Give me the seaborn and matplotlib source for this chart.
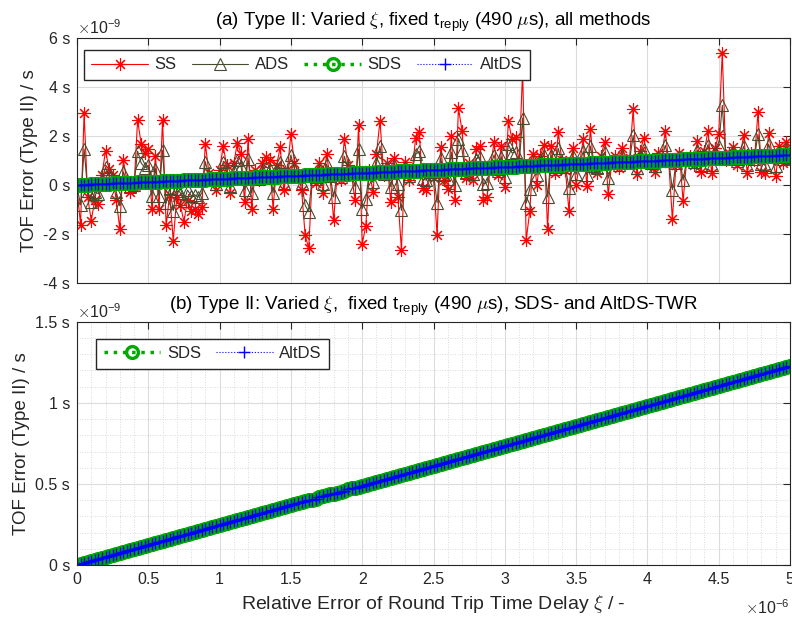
import matplotlib
matplotlib.use("Agg")
import matplotlib.pyplot as plt
import seaborn as sns
from matplotlib.ticker import MultipleLocator

# x: relative error of round trip time delay (x 1e-6)
xi = [
    0.000, 0.025, 0.050, 0.075, 0.100, 0.125, 0.150, 0.175, 0.200, 0.225,
    0.250, 0.275, 0.300, 0.325, 0.350, 0.375, 0.400, 0.425, 0.450, 0.475,
    0.500, 0.525, 0.550, 0.575, 0.600, 0.625, 0.650, 0.675, 0.700, 0.725,
    0.750, 0.775, 0.800, 0.825, 0.850, 0.875, 0.900, 0.925, 0.950, 0.975,
    1.000, 1.025, 1.050, 1.075, 1.100, 1.125, 1.150, 1.175, 1.200, 1.225,
    1.250, 1.275, 1.300, 1.325, 1.350, 1.375, 1.400, 1.425, 1.450, 1.475,
    1.500, 1.525, 1.550, 1.575, 1.600, 1.625, 1.650, 1.675, 1.700, 1.725,
    1.750, 1.775, 1.800, 1.825, 1.850, 1.875, 1.900, 1.925, 1.950, 1.975,
    2.000, 2.025, 2.050, 2.075, 2.100, 2.125, 2.150, 2.175, 2.200, 2.225,
    2.250, 2.275, 2.300, 2.325, 2.350, 2.375, 2.400, 2.425, 2.450, 2.475,
    2.500, 2.525, 2.550, 2.575, 2.600, 2.625, 2.650, 2.675, 2.700, 2.725,
    2.750, 2.775, 2.800, 2.825, 2.850, 2.875, 2.900, 2.925, 2.950, 2.975,
    3.000, 3.025, 3.050, 3.075, 3.100, 3.125, 3.150, 3.175, 3.200, 3.225,
    3.250, 3.275, 3.300, 3.325, 3.350, 3.375, 3.400, 3.425, 3.450, 3.475,
    3.500, 3.525, 3.550, 3.575, 3.600, 3.625, 3.650, 3.675, 3.700, 3.725,
    3.750, 3.775, 3.800, 3.825, 3.850, 3.875, 3.900, 3.925, 3.950, 3.975,
    4.000, 4.025, 4.050, 4.075, 4.100, 4.125, 4.150, 4.175, 4.200, 4.225,
    4.250, 4.275, 4.300, 4.325, 4.350, 4.375, 4.400, 4.425, 4.450, 4.475,
    4.500, 4.525, 4.550, 4.575, 4.600, 4.625, 4.650, 4.675, 4.700, 4.725,
    4.750, 4.775, 4.800, 4.825, 4.850, 4.875, 4.900, 4.925, 4.950, 4.975,
    5.000,
]

# TOF errors (x 1e-9 s)
ss_err = [
    -0.10, -1.62, 2.93, -0.50, -1.45, -0.60, -0.76, 0.40, 1.40, 0.66,
    0.40, -0.60, -1.78, 1.00, 0.20, -0.28, -0.10, 2.65, 1.68, 1.30,
    1.48, -0.98, 1.20, -1.00, 2.67, -1.65, -0.40, -2.27, -0.50, -0.82,
    -1.50, -0.60, -1.05, -1.00, -1.17, -0.90, 1.68, 0.50, 0.30, -0.20,
    0.60, 1.58, 0.80, -0.34, 0.90, 1.73, 1.27, -0.68, 1.86, -0.96,
    0.60, 0.20, 0.90, 1.15, 1.00, -0.96, 0.80, 1.55, -0.20, 0.60,
    2.07, 0.90, 0.50, -0.20, -2.06, -2.57, 0.40, 0.10, 0.90, -0.34,
    1.27, 0.30, -1.43, 0.50, 0.20, 1.88, 0.80, 0.40, -0.62, 2.46,
    -2.40, -1.68, 0.60, -0.28, 1.27, 2.63, 0.40, 0.90, -0.68, 1.10,
    -0.48, -2.64, 0.93, 0.20, 0.60, 1.92, 2.15, -0.13, -0.20, 0.50,
    0.30, -2.05, 1.56, 0.20, -0.18, 2.01, -0.62, 3.13, 2.22, 0.30,
    0.90, 0.20, 1.48, 1.58, -0.62, -0.50, 0.80, 1.75, 0.40, 1.60,
    -0.10, 2.60, 1.88, 1.95, 0.90, 4.70, -2.25, -1.07, 1.27, 0.00,
    1.20, 1.65, -1.78, 1.60, 0.50, 2.15, 1.00, 0.60, -1.08, 1.50,
    0.00, 0.90, 1.86, -0.05, 2.29, 0.70, 0.47, 1.20, 1.75, -0.37,
    0.90, 1.20, 0.70, 1.50, 0.90, 1.10, 3.09, 0.45, 1.40, 1.92,
    1.00, 0.80, 0.53, 1.30, 1.10, 2.22, 0.90, -1.40, 0.80, 1.30,
    -0.67, 1.00, 1.20, 0.80, 1.78, 0.53, 1.40, 2.22, 0.50, 1.50,
    2.09, 5.40, 1.00, 1.30, 1.55, 0.80, 1.20, 2.02, 0.47, 1.30,
    1.00, 2.97, 0.55, 0.47, 2.13, 1.20, 0.38, 1.60, 0.90, 1.76,
    1.00,
]

ads_err = [
    -0.05, -0.81, 1.47, -0.24, -0.71, -0.28, -0.36, 0.22, 0.72, 0.36,
    0.23, -0.27, -0.85, 0.54, 0.14, -0.09, 0.00, 1.38, 0.90, 0.71,
    0.80, -0.43, 0.67, -0.43, 1.41, -0.75, -0.12, -1.05, -0.16, -0.32,
    -0.66, -0.21, -0.43, -0.40, -0.48, -0.34, 0.95, 0.36, 0.27, 0.02,
    0.42, 0.92, 0.53, -0.04, 0.58, 1.00, 0.78, -0.20, 1.08, -0.33,
    0.45, 0.26, 0.61, 0.74, 0.67, -0.31, 0.57, 0.95, 0.08, 0.48,
    1.22, 0.64, 0.44, 0.09, -0.83, -1.09, 0.40, 0.26, 0.66, 0.04,
    0.85, 0.37, -0.49, 0.47, 0.33, 1.17, 0.63, 0.44, -0.07, 1.47,
    -0.96, -0.59, 0.55, 0.11, 0.89, 1.58, 0.46, 0.72, -0.07, 0.82,
    0.04, -1.04, 0.75, 0.38, 0.59, 1.25, 1.37, 0.23, 0.20, 0.55,
    0.46, -0.72, 1.09, 0.42, 0.23, 1.33, 0.01, 1.89, 1.44, 0.48,
    0.79, 0.44, 1.08, 1.14, 0.04, 0.10, 0.76, 1.23, 0.56, 1.16,
    0.32, 1.67, 1.31, 1.35, 0.83, 2.73, -0.74, -0.15, 1.03, 0.40,
    1.00, 1.23, -0.49, 1.21, 0.66, 1.49, 0.92, 0.72, -0.12, 1.18,
    0.43, 0.88, 1.37, 0.41, 1.59, 0.79, 0.68, 1.05, 1.33, 0.27,
    0.91, 1.06, 0.82, 1.22, 0.92, 1.02, 2.02, 0.71, 1.18, 1.45,
    0.99, 0.89, 0.76, 1.15, 1.05, 1.62, 0.96, -0.19, 0.91, 1.17,
    0.19, 1.02, 1.13, 0.93, 1.42, 0.80, 1.24, 1.65, 0.80, 1.30,
    1.60, 3.25, 1.06, 1.21, 1.34, 0.97, 1.17, 1.58, 0.81, 1.23,
    1.08, 2.07, 0.86, 0.83, 1.66, 1.20, 0.79, 1.40, 1.06, 1.49,
    1.11,
]

sds_err = [
    0.000, 0.006, 0.012, 0.018, 0.025, 0.031, 0.037, 0.043, 0.049, 0.055,
    0.061, 0.067, 0.074, 0.080, 0.086, 0.092, 0.098, 0.104, 0.110, 0.116,
    0.123, 0.129, 0.135, 0.141, 0.147, 0.153, 0.159, 0.165, 0.172, 0.178,
    0.184, 0.190, 0.196, 0.202, 0.208, 0.214, 0.221, 0.227, 0.233, 0.239,
    0.245, 0.251, 0.257, 0.263, 0.270, 0.276, 0.282, 0.288, 0.294, 0.300,
    0.306, 0.312, 0.319, 0.325, 0.331, 0.337, 0.343, 0.349, 0.355, 0.361,
    0.368, 0.374, 0.380, 0.386, 0.392, 0.398, 0.404, 0.410, 0.417, 0.423,
    0.429, 0.435, 0.441, 0.447, 0.453, 0.459, 0.466, 0.472, 0.478, 0.484,
    0.490, 0.496, 0.502, 0.508, 0.515, 0.521, 0.527, 0.533, 0.539, 0.545,
    0.551, 0.557, 0.564, 0.570, 0.576, 0.582, 0.588, 0.594, 0.600, 0.606,
    0.613, 0.619, 0.625, 0.631, 0.637, 0.643, 0.649, 0.655, 0.662, 0.668,
    0.674, 0.680, 0.686, 0.692, 0.698, 0.704, 0.711, 0.717, 0.723, 0.729,
    0.735, 0.741, 0.747, 0.753, 0.760, 0.766, 0.772, 0.778, 0.784, 0.790,
    0.796, 0.802, 0.809, 0.815, 0.821, 0.827, 0.833, 0.839, 0.845, 0.851,
    0.858, 0.864, 0.870, 0.876, 0.882, 0.888, 0.894, 0.900, 0.907, 0.913,
    0.919, 0.925, 0.931, 0.937, 0.943, 0.949, 0.956, 0.962, 0.968, 0.974,
    0.980, 0.986, 0.992, 0.998, 1.005, 1.011, 1.017, 1.023, 1.029, 1.035,
    1.041, 1.047, 1.054, 1.060, 1.066, 1.072, 1.078, 1.084, 1.090, 1.096,
    1.103, 1.109, 1.115, 1.121, 1.127, 1.133, 1.139, 1.145, 1.152, 1.158,
    1.164, 1.170, 1.176, 1.182, 1.188, 1.194, 1.201, 1.207, 1.213, 1.219,
    1.225,
]
# AltDS coincides with SDS in the figure
altds_err = list(sds_err)

x_ticks = [0, 0.5, 1, 1.5, 2, 2.5, 3, 3.5, 4, 4.5, 5]
x_labels = ["0", "0.5", "1", "1.5", "2", "2.5", "3", "3.5", "4", "4.5", "5"]
top_yticks = [-4, -2, 0, 2, 4, 6]
top_ylabels = ["-4 s", "-2 s", "0 s", "2 s", "4 s", "6 s"]
bot_yticks = [0, 0.5, 1, 1.5]
bot_ylabels = ["0 s", "0.5 s", "1 s", "1.5 s"]

sns.set_style("whitegrid")
plt.rcParams["font.family"] = ["Liberation Sans", "DejaVu Sans"]
plt.rcParams["mathtext.fontset"] = "cm"
plt.rcParams["axes.unicode_minus"] = False

dark = "#262626"


def style(color, lw, ls, marker, size, mew, hollow=False):
    kw = dict(color=color, linewidth=lw, linestyle=ls, marker=marker,
              markersize=size, markeredgewidth=mew, markeredgecolor=color)
    kw["markerfacecolor"] = "none" if hollow else color
    return kw


ss_style = style("#ff0000", 0.8, "-", (8, 2, 0), 9, 0.8)
ads_style = style("#4a4a2e", 0.8, "-", "^", 9, 0.8, hollow=True)
sds_style = style("#00aa00", 2.5, ":", "o", 8.5, 2.4, hollow=True)
alt_style = style("#0000ff", 0.8, ":", "+", 9, 1)

fig = plt.figure(figsize=(7.92, 6.22), dpi=100)
ax1 = fig.add_axes([0.0972, 0.545, 0.9003, 0.394])
ax2 = fig.add_axes([0.0972, 0.0916, 0.9003, 0.391])

# (a) all methods
sns.lineplot(x=xi, y=ss_err, ax=ax1, label="SS", errorbar=None, **ss_style)
sns.lineplot(x=xi, y=ads_err, ax=ax1, label="ADS", errorbar=None, **ads_style)
sns.lineplot(x=xi, y=sds_err, ax=ax1, label="SDS", errorbar=None, **sds_style)
sns.lineplot(x=xi, y=altds_err, ax=ax1, label="AltDS", errorbar=None, **alt_style)

# (b) SDS and AltDS only
sns.lineplot(x=xi, y=sds_err, ax=ax2, label="SDS", errorbar=None, **sds_style)
sns.lineplot(x=xi, y=altds_err, ax=ax2, label="AltDS", errorbar=None, **alt_style)

for ax in (ax1, ax2):
    ax.set_xlim(0, 5)
    ax.set_xticks(x_ticks)
    for sp in ax.spines.values():
        sp.set_color(dark)
        sp.set_linewidth(0.8)
    ax.tick_params(direction="in", top=True, right=True, length=5,
                   width=0.8, colors=dark, labelsize=11.5, pad=5)
    ax.grid(True, which="major", color="#dcdcdc", lw=0.8, ls="-")
    ax.set_axisbelow(True)
    ax.set_ylabel("TOF Error (Type II) / s", fontsize=13.5, color=dark)

leg_kw = dict(loc="upper left", handlelength=3.4, fontsize=12, frameon=True,
              fancybox=False, framealpha=1, edgecolor=dark, borderpad=0.45,
              columnspacing=0.9, handletextpad=0.4)

ax1.set_ylim(-4, 6)
ax1.set_yticks(top_yticks)
ax1.set_yticklabels(top_ylabels)
ax1.set_xticklabels([])
ax1.set_xlabel("")
ax1.set_title(r"(a) Type II: Varied $\xi$, fixed t$_\mathregular{reply}$ (490 $\mu$s), all methods",
              fontsize=13.5, color="black", pad=9)
ax1.text(0.0, 1.005, r"$\times\mathregular{10^{-9}}$", transform=ax1.transAxes,
         ha="left", va="bottom", fontsize=11.5, color=dark)
ax1.legend(ncol=4, bbox_to_anchor=(-0.002, 0.985), **leg_kw)

ax2.set_ylim(0, 1.5)
ax2.set_yticks(bot_yticks)
ax2.set_yticklabels(bot_ylabels)
ax2.set_xticklabels(x_labels)
ax2.xaxis.set_minor_locator(MultipleLocator(0.1))
ax2.yaxis.set_minor_locator(MultipleLocator(0.1))
ax2.tick_params(which="minor", length=0)
ax2.grid(True, which="minor", color="#cfcfcf", lw=0.6, ls=(0, (1, 2)))
ax2.set_xlabel(r"Relative Error of Round Trip Time Delay $\xi$ / -",
               fontsize=14, color=dark)
ax2.set_title(r"(b) Type II: Varied $\xi$,  fixed t$_\mathregular{reply}$ (490 $\mu$s), SDS- and AltDS-TWR",
              fontsize=13.5, color="black", pad=9)
ax2.text(0.0, 1.005, r"$\times\mathregular{10^{-9}}$", transform=ax2.transAxes,
         ha="left", va="bottom", fontsize=11.5, color=dark)
ax2.text(1.0, -0.135, r"$\times\mathregular{10^{-6}}$", transform=ax2.transAxes,
         ha="right", va="top", fontsize=11.5, color=dark)
ax2.legend(ncol=2, bbox_to_anchor=(0.015, 0.965), **leg_kw)

fig.savefig("out.png", dpi=100)
